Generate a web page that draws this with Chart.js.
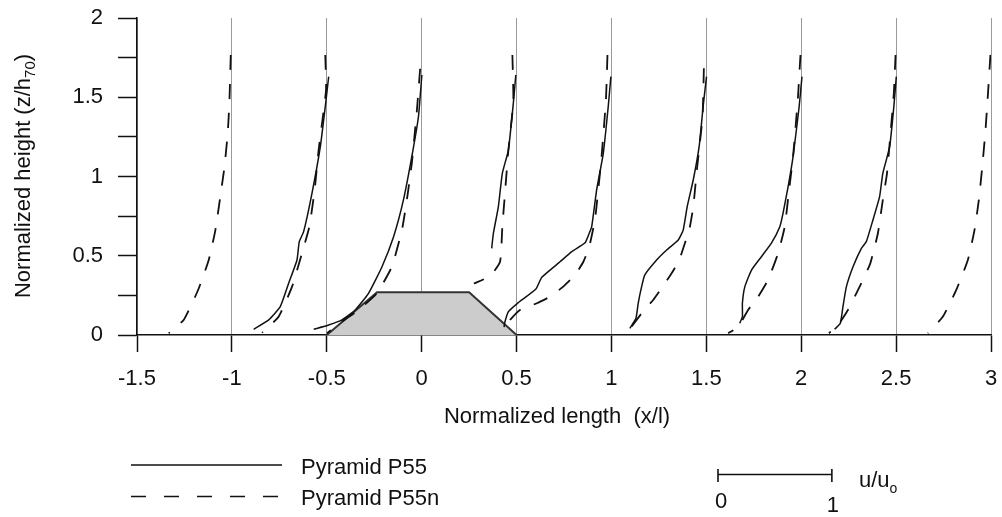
<!DOCTYPE html>
<html>
<head>
<meta charset="utf-8">
<script src="https://cdn.jsdelivr.net/npm/chart.js@4.4.1/dist/chart.umd.min.js"></script>
<style>
  html, body { margin: 0; padding: 0; background: #fff; }
  #wrap { width: 1002px; height: 517px; }
</style>
</head>
<body>
<div id="wrap"><canvas id="myChart" width="1002" height="517"></canvas></div>
<script>
// axis ticks
var xTicks = [-1.5, -1, -0.5, 0, 0.5, 1, 1.5, 2, 2.5, 3];
var yTicks = [0, 0.25, 0.5, 0.75, 1, 1.25, 1.5, 1.75, 2];

// pyramid cross-section (x/l, z/h70)
var pyramid = [[-0.5, 0], [-0.235, 0.27], [0.25, 0.27], [0.5, 0]];

// Pyramid P55 profiles, [x/l, z/h70], top to bottom
var p55_m05 = [[-0.490,1.63],[-0.508,1.44],[-0.534,1.188],[-0.578,0.894],[-0.622,0.652],[-0.645,0.589],[-0.657,0.473],[-0.701,0.326],[-0.745,0.179],[-0.806,0.095],[-0.885,0.036]];
var p55_0 = [[0.001,1.64],[-0.017,1.377],[-0.052,1.125],[-0.096,0.852],[-0.148,0.62],[-0.209,0.431],[-0.28,0.263],[-0.35,0.158],[-0.42,0.095],[-0.49,0.063],[-0.569,0.036]];
var p55_05 = [[0.496,1.64],[0.483,1.462],[0.457,1.167],[0.425,1.02],[0.404,0.809],[0.378,0.642],[0.369,0.547]];
var p55_1 = [[0.997,1.63],[0.983,1.44],[0.957,1.146],[0.922,0.915],[0.896,0.683],[0.883,0.642],[0.861,0.582],[0.791,0.526],[0.729,0.462],[0.633,0.364],[0.602,0.29],[0.505,0.2],[0.457,0.147],[0.439,0.084],[0.434,0.049]];
var p55_15 = [[1.501,1.63],[1.483,1.44],[1.462,1.188],[1.431,0.978],[1.399,0.809],[1.378,0.662],[1.352,0.599],[1.291,0.536],[1.238,0.473],[1.176,0.379],[1.159,0.305],[1.141,0.2],[1.129,0.105],[1.097,0.042]];
var p55_2 = [[2.004,1.63],[1.989,1.44],[1.957,1.125],[1.931,0.936],[1.904,0.768],[1.887,0.683],[1.843,0.579],[1.79,0.494],[1.738,0.41],[1.703,0.305],[1.69,0.2],[1.69,0.115],[1.676,0.074]];
var p55_25 = [[2.501,1.63],[2.488,1.44],[2.466,1.188],[2.43,1.02],[2.413,0.873],[2.378,0.726],[2.343,0.589],[2.317,0.547],[2.273,0.431],[2.238,0.305],[2.22,0.179],[2.206,0.074],[2.176,0.036]];

// Pyramid P55n profiles
var p55n_m1 = [[-1.006,1.767],[-1.013,1.472],[-1.022,1.273],[-1.039,1.062],[-1.061,0.873],[-1.087,0.662],[-1.122,0.473],[-1.178,0.284],[-1.254,0.095],[-1.333,0.011]];
var p55n_m05 = [[-0.508,1.767],[-0.504,1.546],[-0.543,1.167],[-0.564,0.915],[-0.592,0.683],[-0.631,0.515],[-0.683,0.305],[-0.754,0.115],[-0.841,0.015]];
var p55n_0 = [[-0.008,1.68],[-0.025,1.42],[-0.052,1.083],[-0.078,0.852],[-0.104,0.662],[-0.157,0.431],[-0.236,0.263],[-0.333,0.158],[-0.42,0.084],[-0.499,0.011]];
var p55n_05 = [[0.478,1.767],[0.483,1.472],[0.457,1.167],[0.439,0.894],[0.425,0.683],[0.413,0.462],[0.361,0.372],[0.275,0.325]];
var p55n_1 = [[0.979,1.767],[0.971,1.483],[0.948,1.125],[0.925,0.852],[0.913,0.726],[0.883,0.557],[0.852,0.462],[0.808,0.379],[0.746,0.305],[0.676,0.242],[0.607,0.2],[0.518,0.158],[0.466,0.095],[0.462,0.08]];
var p55n_15 = [[1.487,1.683],[1.48,1.377],[1.452,1.062],[1.431,0.809],[1.41,0.662],[1.387,0.579],[1.357,0.473],[1.317,0.389],[1.264,0.295],[1.22,0.221],[1.159,0.137],[1.106,0.052]];
var p55n_2 = [[1.996,1.767],[1.983,1.503],[1.957,1.125],[1.936,0.915],[1.913,0.683],[1.878,0.515],[1.825,0.347],[1.773,0.242],[1.72,0.158],[1.668,0.052],[1.615,0.011]];
var p55n_25 = [[2.497,1.767],[2.488,1.525],[2.469,1.251],[2.452,1.02],[2.43,0.852],[2.404,0.642],[2.364,0.452],[2.308,0.305],[2.246,0.158],[2.194,0.063],[2.146,0.011]];
var p55n_3 = [[2.997,1.767],[2.983,1.503],[2.971,1.293],[2.954,1.062],[2.936,0.852],[2.913,0.662],[2.878,0.473],[2.817,0.284],[2.746,0.115],[2.667,0.011]];

var solidProfiles = [p55_m05, p55_0, p55_05, p55_1, p55_15, p55_2, p55_25];
var dashedProfiles = [p55n_m1, p55n_m05, p55n_0, p55n_05, p55n_1, p55n_15, p55n_2, p55n_25, p55n_3];

// length of u/uo = 1 in x/l units
var uScale = 0.6;

var FONT = '"Liberation Sans", Arial, Helvetica, sans-serif';
Chart.defaults.font.family = FONT;
Chart.defaults.font.size = 22;
Chart.defaults.color = '#111';

function pts(arr) {
  return arr.map(function (p) { return { x: p[0], y: p[1] }; });
}

var datasets = [];
solidProfiles.forEach(function (p) {
  datasets.push({
    data: pts(p), showLine: true, pointRadius: 0, borderColor: '#111',
    borderWidth: 1.5, tension: 0.15, fill: false, order: 1
  });
});
dashedProfiles.forEach(function (p) {
  datasets.push({
    data: pts(p), showLine: true, pointRadius: 0, borderColor: '#111',
    borderWidth: 1.8, borderDash: [15, 14], tension: 0.15, fill: false, order: 1
  });
});
datasets.push({
  data: pts(pyramid), showLine: true, pointRadius: 0, borderColor: '#333',
  borderWidth: 2, backgroundColor: '#cccccc', fill: 'origin', tension: 0, order: 5
});

// titles, legend and velocity scale bar
var extras = {
  id: 'extras',
  afterDraw: function (chart) {
    var ctx = chart.ctx;
    var xs = chart.scales.x;
    ctx.save();
    ctx.fillStyle = '#111';
    ctx.strokeStyle = '#111';
    ctx.font = '22px ' + FONT;
    ctx.textBaseline = 'alphabetic';

    ctx.textAlign = 'center';
    ctx.fillText('Normalized length  (x/l)', 557, 423);

    // y title with subscript
    ctx.save();
    ctx.translate(30, 176);
    ctx.rotate(-Math.PI / 2);
    var a = 'Normalized height (z/h', sub = '70', b = ')';
    ctx.font = '22px ' + FONT;
    var wa = ctx.measureText(a).width, wb = ctx.measureText(b).width;
    ctx.font = '15px ' + FONT;
    var ws = ctx.measureText(sub).width;
    var x0 = -(wa + ws + wb) / 2;
    ctx.textAlign = 'left';
    ctx.font = '22px ' + FONT;
    ctx.fillText(a, x0, 0);
    ctx.font = '15px ' + FONT;
    ctx.fillText(sub, x0 + wa, 5);
    ctx.font = '22px ' + FONT;
    ctx.fillText(b, x0 + wa + ws, 0);
    ctx.restore();

    // legend
    ctx.lineWidth = 1.5;
    ctx.beginPath(); ctx.moveTo(131, 465); ctx.lineTo(282, 465); ctx.stroke();
    ctx.lineWidth = 1.6;
    ctx.setLineDash([15, 18]);
    ctx.beginPath(); ctx.moveTo(131, 496.5); ctx.lineTo(280, 496.5); ctx.stroke();
    ctx.setLineDash([]);
    ctx.textAlign = 'left';
    ctx.fillText('Pyramid P55', 301, 474);
    ctx.fillText('Pyramid P55n', 301, 505);

    // scale bar for u/uo
    var len = xs.getPixelForValue(xTicks[0] + uScale) - xs.getPixelForValue(xTicks[0]);
    var bx = 718, by = 474.5;
    ctx.lineWidth = 1.6;
    ctx.beginPath();
    ctx.moveTo(bx, by); ctx.lineTo(bx + len, by);
    ctx.moveTo(bx, 469); ctx.lineTo(bx, 482);
    ctx.moveTo(bx + len, 469); ctx.lineTo(bx + len, 482);
    ctx.stroke();
    ctx.textAlign = 'center';
    ctx.fillText('0', bx + 3, 508);
    ctx.fillText('1', bx + len + 1, 512);
    ctx.textAlign = 'left';
    ctx.fillText('u/u', 859, 487);
    var wu = ctx.measureText('u/u').width;
    ctx.font = '14px ' + FONT;
    ctx.fillText('o', 859 + wu, 493);
    ctx.restore();
  }
};

var ctx = document.getElementById('myChart');
var myChart = new Chart(ctx, {
  type: 'scatter',
  data: { datasets: datasets },
  options: {
    responsive: false,
    devicePixelRatio: 1,
    animation: false,
    layout: { padding: { left: 0, right: 11, top: 18, bottom: 0 } },
    plugins: { legend: { display: false }, tooltip: { enabled: false } },
    scales: {
      x: {
        type: 'linear', min: -1.5, max: 3,
        afterBuildTicks: function (s) { s.ticks = xTicks.map(function (v) { return { value: v }; }); },
        afterFit: function (s) { s.height = 182; s.paddingLeft = 0; s.paddingRight = 0; },
        grid: { color: '#9a9a9a', lineWidth: 1, tickColor: '#111', tickLength: 17, tickWidth: 1.5 },
        border: { display: true, color: '#111', width: 1.5 },
        ticks: { padding: 14, maxRotation: 0, color: '#111', font: { size: 22 },
          callback: function (v) { return String(v); } }
      },
      y: {
        type: 'linear', min: 0, max: 2,
        afterBuildTicks: function (s) { s.ticks = yTicks.map(function (v) { return { value: v }; }); },
        afterFit: function (s) { s.width = 137; s.paddingTop = 0; s.paddingBottom = 0; },
        grid: { drawOnChartArea: false, tickColor: '#111', tickLength: 19, tickWidth: 1.5 },
        border: { display: true, color: '#111', width: 1.5 },
        ticks: { padding: 15, color: '#111', font: { size: 22 },
          callback: function (v) { return (v * 2) % 1 === 0 ? String(v) : ''; } }
      }
    }
  },
  plugins: [extras]
});
</script>
</body>
</html>
